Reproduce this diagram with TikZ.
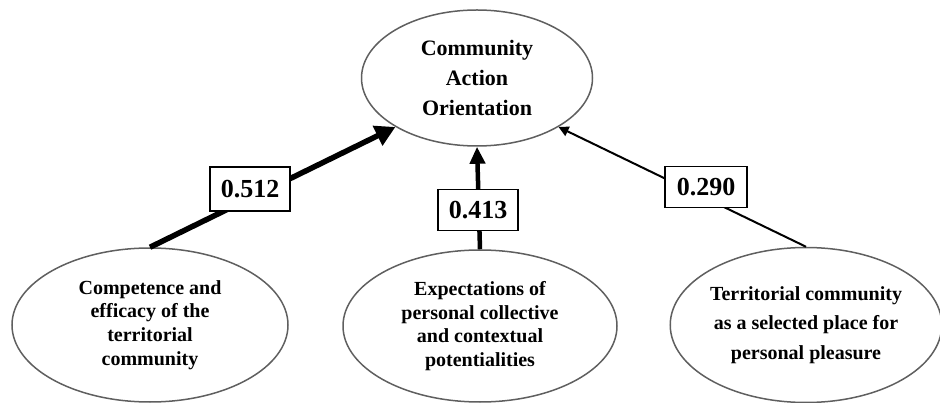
\documentclass[tikz,border=0pt]{standalone}
\usepackage{fontspec}
\setmainfont{Liberation Serif}
\usetikzlibrary{shapes.geometric,arrows.meta}
\definecolor{ellgray}{RGB}{95,95,95}
\tikzset{
  factor/.style={ellipse, draw=ellgray, line width=1.5pt, inner sep=0pt, align=center,
     font=\bfseries\fontsize{20}{23.8}\selectfont},
  coef/.style={draw=black, fill=white, line width=1.4pt, inner sep=0pt,
     font=\bfseries\fontsize{26}{28}\selectfont, minimum width=80pt, minimum height=41pt},
  path/.style={draw=black, line cap=butt}
}
\begin{document}
\begin{tikzpicture}[x=1pt,y=-1pt]
\useasboundingbox (0,0) rectangle (940,403);
\node[factor, minimum width=231pt, minimum height=136pt, font=\bfseries\fontsize{22}{30}\selectfont]
  (top) at (477,78) {Community\\Action\\Orientation};
\node[factor, minimum width=276pt, minimum height=154pt] (c1) at (150,325)
  {Competence and\\efficacy of the\\territorial\\community};
\node[factor, minimum width=274pt, minimum height=152pt] (c2) at (480,326)
  {Expectations of\\personal collective\\and contextual\\potentialities};
\node[factor, minimum width=268pt, minimum height=155pt, font=\bfseries\fontsize{20}{29.5}\selectfont] (c3) at (806,325)
  {Territorial community\\as a selected place for\\personal pleasure};
\draw[path, line width=5.5pt, -{Triangle[length=20pt,width=21pt]}] (c1.north) -- (top.211);
\draw[path, line width=4.5pt, -{Triangle[length=17pt,width=15pt]}] (c2.north) -- (top.south);
\draw[path, line width=2pt, -{Triangle[length=10pt,width=10pt]}] (c3.north) -- (top.-31);
\node[coef, minimum height=44pt] (l1) at (250,189) {0.512};
\node[coef] (l2) at (478,210) {0.413};
\node[coef, minimum width=82pt] (l3) at (706,187) {0.290};
\end{tikzpicture}
\end{document}
